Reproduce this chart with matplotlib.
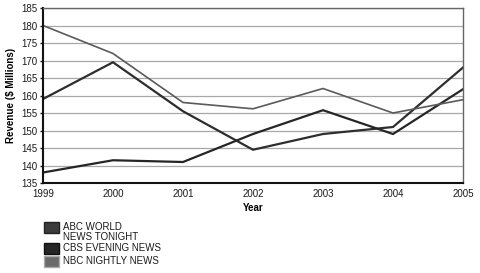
import matplotlib
matplotlib.use("Agg")
import matplotlib.pyplot as plt
from matplotlib.patches import Rectangle

plt.rcParams['font.family'] = ['Liberation Sans', 'DejaVu Sans']

years = [1999, 2000, 2001, 2002, 2003, 2004, 2005]
abc = [159, 169.5, 155.5, 144.5, 149, 151, 168]
cbs = [138, 141.5, 141, 149, 155.8, 149, 161.8]
nbc = [180, 172, 158, 156.2, 162, 155, 158.8]
labels = ["ABC WORLD\nNEWS TONIGHT", "CBS EVENING NEWS", "NBC NIGHTLY NEWS"]
yticks = list(range(135, 186, 5))

fig = plt.figure(figsize=(4.8, 2.73), dpi=100)
ax = fig.add_axes([43/480, 1-183/273, 420/480, 175/273])

ax.plot(years, abc, color='#2e2e2e', lw=1.6, solid_joinstyle='miter')
ax.plot(years, cbs, color='#262626', lw=1.6, solid_joinstyle='miter')
ax.plot(years, nbc, color='#5a5a5a', lw=1.2, solid_joinstyle='miter')

ax.set_xlim(1999, 2005)
ax.set_ylim(135, 185)
ax.set_yticks(yticks)
ax.set_xticks(years)
ax.yaxis.grid(True, color='#a8a8a8', lw=0.9)
ax.set_axisbelow(True)
ax.tick_params(axis='both', labelsize=7, length=2.5, width=1, pad=1.5, colors='#1a1a1a')
ax.tick_params(axis='x', length=0, pad=4)
for s in ['left', 'bottom']:
    ax.spines[s].set_color('#111111')
    ax.spines[s].set_linewidth(1.5)
for s in ['top', 'right']:
    ax.spines[s].set_color('#666666')
    ax.spines[s].set_linewidth(1.0)

ax.set_xlabel('Year', fontsize=7, fontweight='bold', labelpad=3)
ax.set_ylabel('Revenue ($ Millions)', fontsize=7, fontweight='bold', labelpad=4)

# legend
cols = ['#3c3c3c', '#262626', '#6a6a6a']
edges = ['#222222', '#111111', '#aaaaaa']
ys = [227, 248, 261]
for lab, c, e, yc in zip(labels, cols, edges, ys):
    fig.add_artist(Rectangle((44/480, 1-(yc+5.5)/273), 15/480, 11/273,
                             transform=fig.transFigure, facecolor=c, edgecolor=e, lw=1))
    if '\n' in lab:
        fig.text(63/480, 1-(yc-4.5)/273, lab, fontsize=7, va='top', ha='left', color='#1a1a1a',
                 linespacing=0.95)
    else:
        fig.text(63/480, 1-yc/273, lab, fontsize=7, va='center', ha='left', color='#1a1a1a')

fig.savefig('out.png', dpi=100, facecolor='white')
